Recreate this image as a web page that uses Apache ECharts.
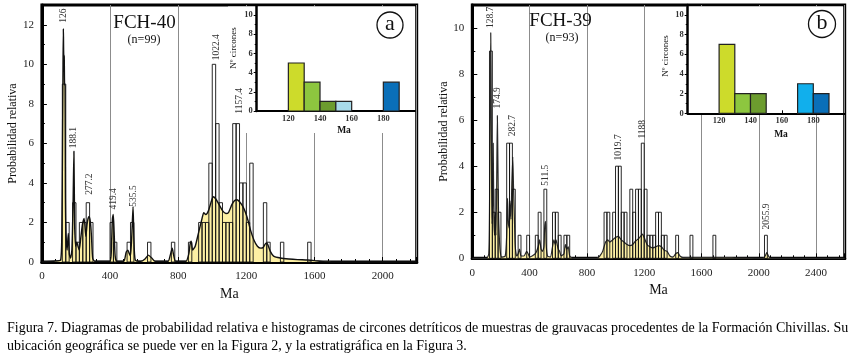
<!DOCTYPE html>
<html>
<head>
<meta charset="utf-8">
<script src="https://cdn.jsdelivr.net/npm/echarts@6/dist/echarts.min.js"></script>
<style>
  html, body { margin: 0; padding: 0; background: #fff; }
  #chart { width: 858px; height: 356px; }
</style>
</head>
<body>
<div id="chart"></div>
<script>
// ---- FCH-40 (panel a) ----
// histogram, 20 Ma bins: start of bin and number of zircons
const binStartA = [120, 140, 180, 200, 220, 240, 260, 280, 400, 420, 500, 520, 620, 760, 860,
  920, 940, 960, 980, 1000, 1020, 1040, 1060, 1080, 1100, 1120, 1140, 1160, 1180, 1200, 1220,
  1300, 1320, 1400, 1560];
const binCountA = [9, 2, 3, 1, 2, 2, 3, 2, 2, 1, 1, 2, 1, 1, 1,
  2, 2, 2, 5, 10, 7, 3, 2, 2, 2, 7, 7, 4, 4, 2, 5,
  3, 1, 1, 1];
// relative probability curve
const curveAgeA = [0, 80, 110, 117, 121, 124, 126, 128, 131, 133, 136, 138, 141, 148, 155, 161, 168,
  176, 183, 188, 192, 198, 205, 212, 219, 228, 238, 248, 258, 265, 271, 277, 285, 291, 298, 310, 400,
  409, 414, 419, 424, 430, 440, 480, 495, 505, 512, 520, 528, 535, 540, 548, 580, 605, 625, 645, 665,
  740, 755, 765, 772, 785, 845, 862, 870, 876, 885, 900, 920, 940, 950, 962, 978, 992, 1005, 1020,
  1040, 1060, 1080, 1095, 1115, 1130, 1145, 1160, 1180, 1195, 1210, 1225, 1245, 1265, 1285, 1300,
  1315, 1325, 1340, 1360, 1400, 1450, 1500, 1560, 1600, 1650, 1700, 2200];
const curveValA = [0, 0.05, 0.1, 1.5, 6, 10, 11.8, 10.5, 10.4, 9, 8.9, 3.5, 1.5, 0.6, 1.45, 0.4, 0.2,
  0.6, 3, 5.6, 2, 0.8, 1, 0.8, 0.6, 1.2, 1.9, 2.2, 1.3, 1.9, 2.2, 2.3, 2, 1.3, 0.2, 0.03, 0.03,
  1, 2.2, 2.4, 1.5, 0.3, 0.03, 0.03, 0.5, 0.6, 0.45, 0.3, 1.4, 2.8, 1.2, 0.1, 0.03, 0.15, 0.35, 0.2, 0.03,
  0.03, 0.4, 0.7, 0.4, 0.03, 0.03, 0.4, 0.9, 1.05, 0.6, 0.8, 1.5, 2.2, 2.5, 2.4, 2.6, 3.0, 3.3, 3.2,
  2.9, 2.6, 2.45, 2.5, 2.9, 3.1, 3.15, 3.05, 2.8, 2.5, 2.1, 1.6, 1.1, 0.8, 0.7, 0.75,
  0.95, 0.9, 0.55, 0.3, 0.2, 0.15, 0.12, 0.1, 0.07, 0.02, 0, 0];
// peak ages labelled on the plot
const peakAgeA = [126, 188.1, 277.2, 419.4, 535.5, 1022.4, 1157.4];
// inset histogram (10 Ma bins, 100-200 Ma)
const insetBinA = [120, 130, 140, 150, 180];
const insetCountA = [5, 3, 1, 1, 3];

// ---- FCH-39 (panel b) ----
const binStartB = [120, 140, 160, 180, 240, 260, 280, 320, 380, 440, 460, 500, 560, 580, 600, 640, 660,
  920, 940, 980, 1000, 1020, 1040, 1060, 1100, 1120, 1140, 1160, 1180, 1200, 1220, 1240, 1260,
  1280, 1300, 1320, 1340, 1420, 1520, 1680, 2040];
const binCountB = [9, 2, 3, 2, 5, 5, 3, 1, 1, 1, 2, 3, 2, 2, 1, 1, 1,
  2, 2, 2, 4, 4, 2, 2, 3, 2, 3, 3, 5, 3, 1, 1, 1,
  2, 2, 1, 1, 1, 1, 1, 1];
const curveAgeB = [0, 100, 115, 120, 125, 128.7, 132, 135, 138, 142, 146, 150, 155, 160, 165, 170, 174.9,
  178, 183, 188, 195, 205, 230, 240, 246, 252, 258, 263, 270, 276, 282.7, 288, 295, 300, 310, 320, 330,
  340, 360, 380, 390, 400, 440, 460, 470, 480, 490, 500, 505, 511.5, 516, 525, 545, 560, 570, 578, 585,
  592, 600, 610, 620, 640, 650, 660, 670, 680, 700, 870, 890, 910, 930, 945, 960, 980, 1000, 1019.7,
  1040, 1060, 1080, 1100, 1120, 1140, 1160, 1180, 1188, 1200, 1220, 1240, 1260, 1280, 1300, 1320,
  1340, 1360, 1380, 1400, 1420, 1435, 1450, 1470, 1750, 2030, 2045, 2056, 2068, 2080, 2600];
const curveValB = [0, 0, 0.2, 2, 7, 9.8, 7, 3, 1.5, 2.6, 5, 2, 1, 2, 1, 3, 6.2,
  4.6, 2, 1, 0.3, 0.05, 0.1, 1, 2.6, 1.5, 1.3, 2.5, 1.7, 3.2, 4.4, 3, 1.5, 0.5, 0.1, 0.2, 0.4,
  0.1, 0.1, 0.3, 0.2, 0.05, 0.2, 0.5, 0.8, 0.4, 0.3, 0.5, 1.3, 1.6, 0.6, 0.1, 0.05, 0.5, 0.8, 0.6, 0.8,
  0.6, 0.4, 0.3, 0.1, 0.2, 0.6, 0.4, 0.5, 0.1, 0, 0, 0.1, 0.3, 0.7, 0.8, 0.7, 0.8, 0.9, 0.95,
  0.8, 0.7, 0.6, 0.55, 0.6, 0.75, 0.85, 1.0, 1.05, 0.9, 0.6, 0.5, 0.45, 0.5, 0.55, 0.5,
  0.35, 0.3, 0.1, 0.05, 0.2, 0.25, 0.1, 0.03, 0.02, 0, 0.1, 0.25, 0.1, 0, 0];
const peakAgeB = [128.7, 174.9, 282.7, 511.5, 1019.7, 1188, 2055.9];
const insetBinB = [120, 130, 140, 170, 180];
const insetCountB = [7, 2, 2, 3, 2];

// label heights above each peak (relative probability units)
const peakLabelYA = [12.1, 5.75, 3.4, 2.65, 2.8, 10.2, 7.5];
const peakLabelYB = [10.0, 6.5, 5.3, 3.15, 4.25, 5.2, 1.25];
const insetColorsA = ['#cddb2b', '#8dc63f', '#6c9c2e', '#a8dbea', '#0a6fb8'];
const insetColorsB = ['#cddb2b', '#8dc63f', '#6c9c2e', '#11afec', '#0a6fb8'];

const FONT = '"Liberation Serif", "Times New Roman", serif';

const chart = echarts.init(document.getElementById('chart'), null, { renderer: 'canvas' });

function histRender(params, api) {
  const p0 = api.coord([api.value(0), api.value(2)]);
  const p1 = api.coord([api.value(1), 0]);
  return {
    type: 'rect',
    shape: { x: p0[0], y: p0[1], width: p1[0] - p0[0], height: p1[1] - p0[1] },
    style: { fill: 'none', stroke: '#111', lineWidth: 0.9 }
  };
}

function insetRender(params, api) {
  const p0 = api.coord([api.value(0), api.value(2)]);
  const p1 = api.coord([api.value(1), 0]);
  return {
    type: 'rect',
    shape: { x: p0[0], y: p0[1], width: p1[0] - p0[0], height: p1[1] - p0[1] },
    style: { fill: api.visual('color'), stroke: '#222', lineWidth: 1.2 }
  };
}

function labelRender(ages) {
  return function (params, api) {
    const p = api.coord([api.value(0), api.value(1)]);
    return {
      type: 'text',
      x: p[0], y: p[1],
      rotation: Math.PI / 2,
      style: {
        text: String(ages[params.dataIndex]),
        x: 0, y: 0,
        align: 'left', verticalAlign: 'middle',
        fontSize: 9.5, fontFamily: FONT, fill: '#333'
      }
    };
  };
}

const bins = (starts, counts, w) => starts.map((s, i) => [s, s + w, counts[i]]);
const pts = (xs, ys) => xs.map((x, i) => [x, ys[i]]);
const plain = v => String(v);

function mainX(grid, max) {
  return {
    gridIndex: grid, type: 'value', min: 0, max: max, interval: 400,
    axisLine: { onZero: false, lineStyle: { color: '#000', width: 3 } },
    axisTick: { inside: true, length: 5, lineStyle: { color: '#000' } },
    minorTick: { show: true, splitNumber: 5, length: 3, lineStyle: { color: '#000' } },
    axisLabel: { fontFamily: FONT, fontSize: 11, color: '#222', margin: 9, showMaxLabel: false, formatter: plain },
    splitLine: { show: true, lineStyle: { color: '#8c8c8c', width: 1 } },
    name: 'Ma', nameLocation: 'middle', nameGap: 24,
    nameTextStyle: { fontFamily: FONT, fontSize: 14, color: '#111' }
  };
}
function mainY(grid, max, gap) {
  return {
    gridIndex: grid, type: 'value', min: 0, max: max, interval: 2,
    axisLine: { lineStyle: { color: '#000', width: 3 } },
    axisTick: { inside: true, length: 5, lineStyle: { color: '#000' } },
    minorTick: { show: true, splitNumber: 2, length: 3, lineStyle: { color: '#000' } },
    axisLabel: { fontFamily: FONT, fontSize: 11, color: '#222', margin: 8, showMaxLabel: false, formatter: plain },
    splitLine: { show: false },
    name: 'Probabilidad relativa', nameLocation: 'middle', nameGap: gap,
    nameTextStyle: { fontFamily: FONT, fontSize: 12, color: '#111' }
  };
}
function insetX(grid) {
  return {
    gridIndex: grid, type: 'value', min: 100, max: 200, interval: 20, z: 5,
    axisLine: { onZero: false, lineStyle: { color: '#000', width: 2 } },
    axisTick: { inside: true, length: 3, lineStyle: { color: '#000' } },
    axisLabel: { fontFamily: FONT, fontSize: 8.5, fontWeight: 'bold', color: '#333', margin: 3,
      showMinLabel: false, showMaxLabel: false },
    splitLine: { show: false }
  };
}
function insetY(grid) {
  return {
    gridIndex: grid, type: 'value', min: 0, max: 11, interval: 2, z: 5,
    axisLine: { lineStyle: { color: '#000', width: 2.5 } },
    axisTick: { inside: false, length: 3, lineStyle: { color: '#000' } },
    minorTick: { show: true, splitNumber: 2, length: 2, lineStyle: { color: '#000' } },
    axisLabel: { fontFamily: FONT, fontSize: 8.5, fontWeight: 'bold', color: '#333', margin: 4, showMaxLabel: false },
    splitLine: { show: false }
  };
}

function txt(text, x, y, size, opts) {
  return Object.assign({
    type: 'text', x: x, y: y, z: 20,
    style: Object.assign({ text: text, fontFamily: FONT, fontSize: size, fill: '#111',
      align: 'center', verticalAlign: 'middle' }, (opts && opts.style) || {})
  }, (opts && opts.el) || {});
}

const option = {
  animation: false,
  backgroundColor: '#fff',
  grid: [
    { left: 41.9, top: 5, width: 374.8, height: 257, show: true, borderColor: '#000', borderWidth: 3 },
    { left: 256.7, top: 5.4, width: 158.3, height: 105.6 },
    { left: 472.3, top: 5, width: 372.4, height: 253.3, show: true, borderColor: '#000', borderWidth: 3 },
    { left: 687.7, top: 5, width: 157, height: 108.3 }
  ],
  xAxis: [mainX(0, 2200), insetX(1), mainX(2, 2600), insetX(3)],
  yAxis: [mainY(0, 13, 20), insetY(1), mainY(2, 11, 17), insetY(3)],
  series: [
    // panel a
    { type: 'line', xAxisIndex: 0, yAxisIndex: 0, data: pts(curveAgeA, curveValA), showSymbol: false,
      smooth: 0.2, lineStyle: { color: '#111', width: 1.4 }, areaStyle: { color: '#fdf0a4', opacity: 1 }, z: 2 },
    { type: 'custom', xAxisIndex: 0, yAxisIndex: 0, data: bins(binStartA, binCountA, 20),
      encode: { x: [0, 1], y: 2 }, renderItem: histRender, z: 3 },
    { type: 'custom', xAxisIndex: 0, yAxisIndex: 0, data: pts(peakAgeA, peakLabelYA),
      renderItem: labelRender(peakAgeA), z: 4 },
    { type: 'custom', xAxisIndex: 1, yAxisIndex: 1, z: 6,
      data: insetBinA.map((b, i) => ({ value: [b, b + 10, insetCountA[i]], itemStyle: { color: insetColorsA[i] } })),
      encode: { x: [0, 1], y: 2 }, renderItem: insetRender },
    // panel b
    { type: 'line', xAxisIndex: 2, yAxisIndex: 2, data: pts(curveAgeB, curveValB), showSymbol: false,
      smooth: 0.2, lineStyle: { color: '#2a2a2a', width: 1.2 }, areaStyle: { color: '#fdf0a4', opacity: 1 }, z: 2 },
    { type: 'custom', xAxisIndex: 2, yAxisIndex: 2, data: bins(binStartB, binCountB, 20),
      encode: { x: [0, 1], y: 2 }, renderItem: histRender, z: 3 },
    { type: 'custom', xAxisIndex: 2, yAxisIndex: 2, data: pts(peakAgeB, peakLabelYB),
      renderItem: labelRender(peakAgeB), z: 4 },
    { type: 'custom', xAxisIndex: 3, yAxisIndex: 3, z: 6,
      data: insetBinB.map((b, i) => ({ value: [b, b + 10, insetCountB[i]], itemStyle: { color: insetColorsB[i] } })),
      encode: { x: [0, 1], y: 2 }, renderItem: insetRender }
  ],
  graphic: [
    // white backgrounds of the insets
    { type: 'rect', z: 1, shape: { x: 228, y: 6.5, width: 187, height: 126.5 }, style: { fill: '#fff' } },
    { type: 'rect', z: 1, shape: { x: 686, y: 6.5, width: 157, height: 106.8 }, style: { fill: '#fff' } },
    // panel letters
    { type: 'circle', z: 20, shape: { cx: 390, cy: 25, r: 13 }, style: { fill: '#fff', stroke: '#111', lineWidth: 1.3 } },
    txt('a', 390, 24, 22),
    { type: 'circle', z: 20, shape: { cx: 822, cy: 24, r: 13.5 }, style: { fill: '#fff', stroke: '#111', lineWidth: 1.3 } },
    txt('b', 822, 23, 22),
    // sample names
    txt('FCH-40', 144.5, 23.5, 19),
    txt('(n=99)', 144, 39.5, 12),
    txt('FCH-39', 560.5, 21.5, 19),
    txt('(n=93)', 562, 37.5, 12),
    // inset axis names
    txt('Nº circones', 234, 48, 9, { el: { rotation: Math.PI / 2 } }),
    txt('Ma', 344, 130.5, 9.5, { style: { fontWeight: 'bold' } }),
    txt('Nº circones', 666, 56, 9, { el: { rotation: Math.PI / 2 } }),
    txt('Ma', 781, 134.5, 9.5, { style: { fontWeight: 'bold' } }),
    // caption
    txt('Figura 7. Diagramas de probabilidad relativa e histogramas de circones detríticos de muestras de grauvacas procedentes de la Formación Chivillas. Su',
      7, 328, 14, { style: { align: 'left', fill: '#000' } }),
    txt('ubicación geográfica se puede ver en la Figura 2, y la estratigráfica en la Figura 3.',
      7, 346, 14, { style: { align: 'left', fill: '#000' } })
  ]
};

chart.setOption(option);
</script>
</body>
</html>
